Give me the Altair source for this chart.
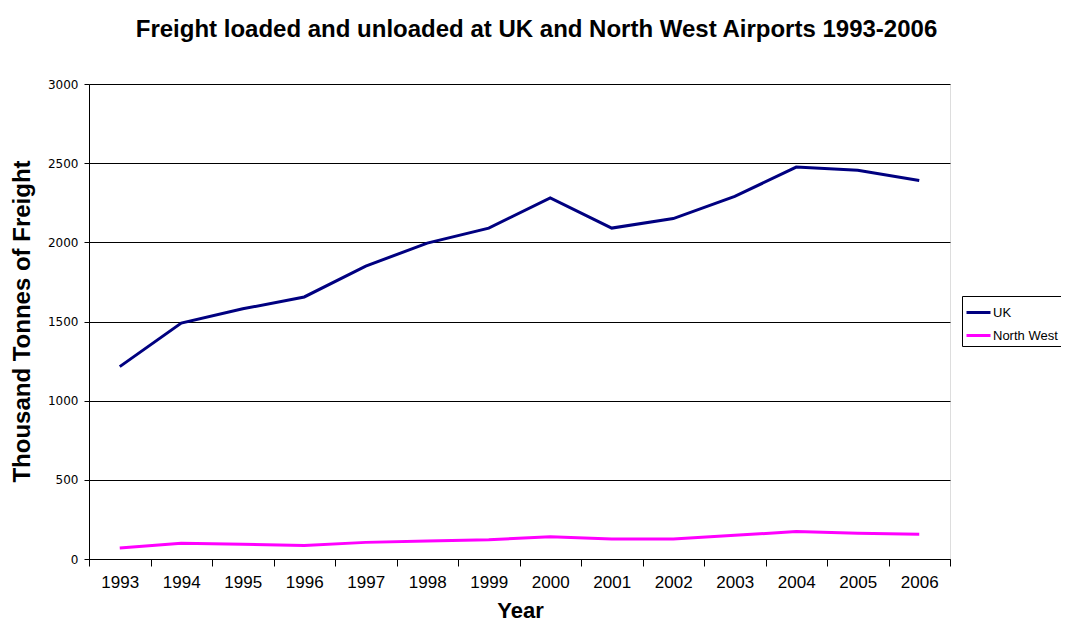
import altair as alt
import pandas as pd

years = [str(y) for y in range(1993, 2007)]
uk = [1215, 1490, 1580, 1655, 1850, 1995, 2090, 2280, 2090, 2150, 2290, 2475, 2455, 2390]
north_west = [70, 100, 93, 85, 105, 114, 122, 141, 126, 126, 150, 173, 162, 156]
series_names = ["UK", "North West"]
series_colors = ["#000080", "#FF00FF"]
y_ticks = [0, 500, 1000, 1500, 2000, 2500, 3000]

rows = []
for i, yr in enumerate(years):
    rows.append({"Year": yr, "Series": "UK", "Value": uk[i]})
    rows.append({"Year": yr, "Series": "North West", "Value": north_west[i]})
df = pd.DataFrame(rows)

FONT = "Liberation Sans"

chart = alt.Chart(df).mark_line(strokeWidth=3, strokeJoin="miter").encode(
    x=alt.X("Year:O", bandPosition=0.5, sort=years,
            scale=alt.Scale(type="band", paddingInner=0, paddingOuter=0),
            axis=alt.Axis(title="Year", labelAngle=0, tickBand="extent", grid=False,
                          domainColor="black", tickColor="black", tickSize=7,
                          labelFont=FONT, labelFontSize=17, labelColor="black", labelPadding=8,
                          titleFont=FONT, titleFontSize=22, titleFontWeight="bold", titleColor="black",
                          titleX=431, titleY=58, titleBaseline="alphabetic")),
    y=alt.Y("Value:Q", scale=alt.Scale(domain=[0, 3000], nice=False),
            axis=alt.Axis(title="Thousand Tonnes of Freight", values=y_ticks, grid=True,
                          format="d",
                          gridColor="black", gridOpacity=1, gridWidth=1,
                          domainColor="black", tickColor="black", tickSize=5,
                          labelFont="DejaVu Sans", labelFontSize=12, labelColor="black", labelPadding=6,
                          titleFont=FONT, titleFontSize=24, titleFontWeight="bold", titleColor="black",
                          titleAngle=-90, titleX=-67, titleY=237, titleAlign="center",
                          titleBaseline="middle")),
    color=alt.Color("Series:N", sort=series_names,
                    scale=alt.Scale(domain=series_names, range=series_colors),
                    legend=alt.Legend(title=None, orient="none", legendX=873, legendY=212,
                                      symbolType="stroke", symbolSize=576, symbolStrokeWidth=3,
                                      labelFont=FONT, labelFontSize=13, labelColor="black",
                                      labelOffset=1, padding=3, rowPadding=2,
                                      strokeColor="black", fillColor="white")),
).properties(
    width=861, height=475,
    title=alt.TitleParams("Freight loaded and unloaded at UK and North West Airports 1993-2006",
                          font=FONT, fontSize=24, fontWeight="bold", color="black",
                          anchor="middle", dy=-32, dx=17),
    autosize=alt.AutoSizeParams(type="none"),
    padding={"left": 81, "top": 76, "right": 111, "bottom": 63},
).configure_view(stroke="#808080", strokeWidth=1).configure(background="white")

chart.save("out.html", embed_options={"renderer": "svg", "actions": False})
